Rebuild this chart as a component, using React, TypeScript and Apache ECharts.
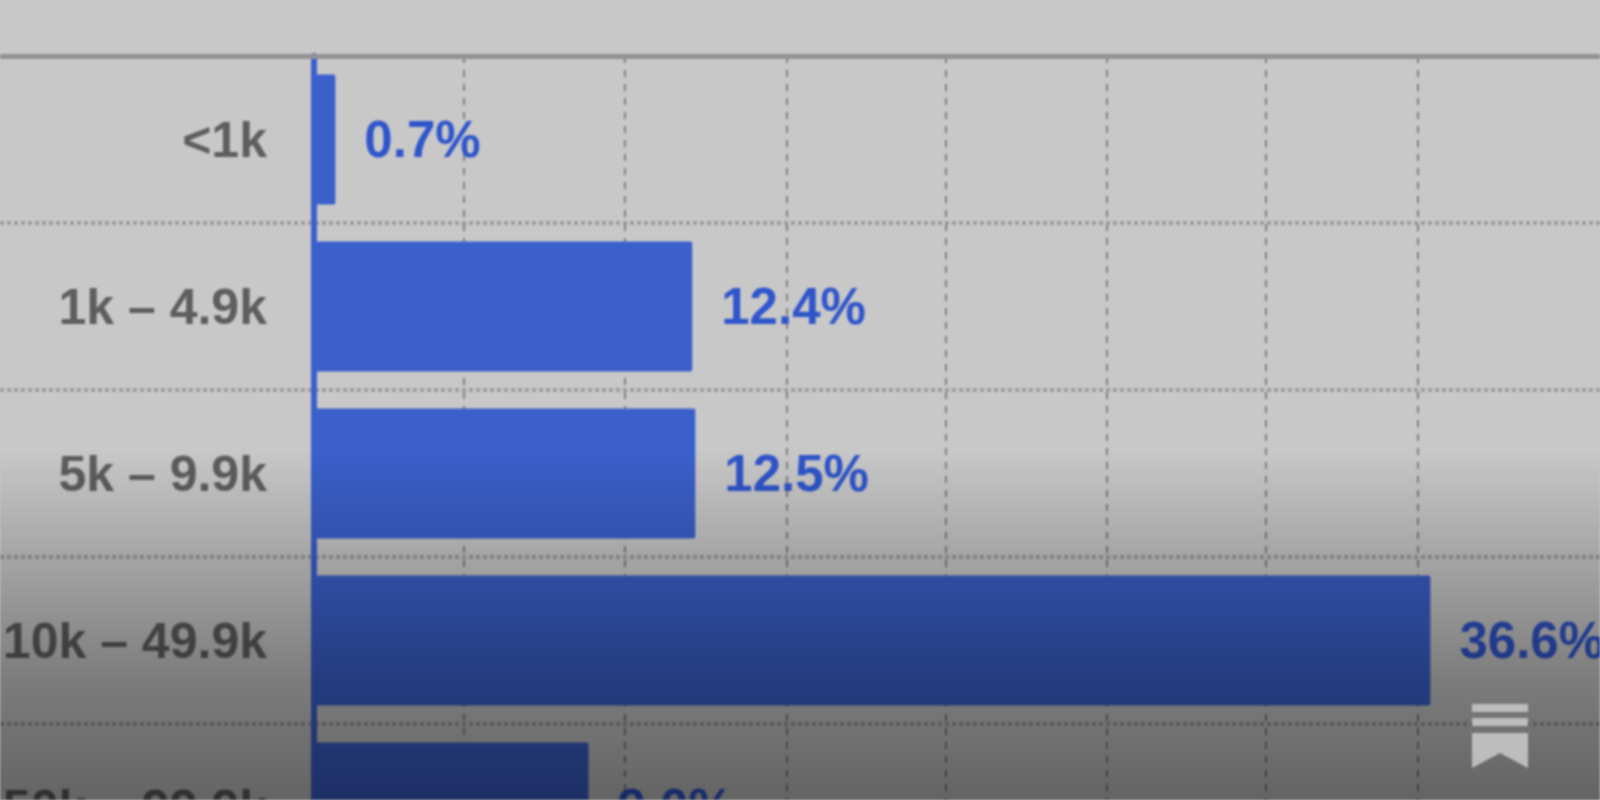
import React, { useEffect, useRef } from "react";
import * as echarts from "echarts";

const categories = ["<1k", "1k – 4.9k", "5k – 9.9k", "10k – 49.9k", "50k – 99.9k"];
const shares = [0.7, 12.4, 12.5, 36.6, 9.0];
const gridValues = [4.92, 10.2, 15.5, 20.7, 26.0, 31.2, 36.2];
const axisMin = -10.295;
const axisMax = 42.16;

const FONT = '"Liberation Sans", Arial, sans-serif';

export default function App() {
  const ref = useRef<HTMLDivElement>(null);
  useEffect(() => {
    document.body.style.margin = "0";
    document.body.style.overflow = "hidden";
    document.body.style.background = "#c8c8c8";
    const chart = echarts.init(ref.current!, undefined, { renderer: "svg" });
    chart.setOption({
      animation: false,
      backgroundColor: "#c8c8c8",
      grid: { left: 0, top: 56, width: 1600, height: 835, outerBoundsMode: "none", containLabel: false },
      xAxis: {
        type: "value",
        position: "top",
        min: axisMin,
        max: axisMax,
        axisLine: { show: true, onZero: false, lineStyle: { color: "#929292", width: 5 } },
        axisLabel: { show: false },
        axisTick: { show: false, customValues: gridValues },
        splitLine: { show: true, lineStyle: { color: "#808080", width: 2, type: [7, 7] } },
      },
      yAxis: {
        type: "category",
        inverse: true,
        data: categories,
        axisLine: { show: true, onZero: true, lineStyle: { color: "#3b60cc", width: 6 } },
        axisTick: { show: false },
        axisLabel: { margin: -267, align: "right", fontFamily: FONT, fontWeight: "bold", fontSize: 50, color: "#5e5e5e" },
        splitLine: { show: true, lineStyle: { color: "#9c9c9c", width: 4, type: [4, 3] } },
      },
      series: [
        {
          type: "bar",
          data: shares,
          barWidth: 130,
          z: 3,
          itemStyle: { color: "#3b60cc", borderRadius: 2 },
          label: {
            show: true,
            position: "right",
            distance: 29,
            fontFamily: FONT,
            fontWeight: "bold",
            fontSize: 51,
            color: "#2f55cc",
            formatter: (p: any) => `${Number(p.value).toFixed(1)}%`,
          },
        },
      ],
      graphic: [
        {
          type: "rect",
          z: 100,
          silent: true,
          shape: { x: 0, y: 0, width: 1600, height: 800 },
          style: {
            fill: new echarts.graphic.LinearGradient(0, 0, 0, 1, [
              { offset: 0, color: "rgba(0,0,0,0)" },
              { offset: 0.56, color: "rgba(0,0,0,0)" },
              { offset: 0.7, color: "rgba(0,0,0,0.18)" },
              { offset: 0.85, color: "rgba(0,0,0,0.38)" },
              { offset: 1, color: "rgba(0,0,0,0.5)" },
            ]),
          },
        },
        { type: "rect", z: 101, shape: { x: 1472, y: 704, width: 56, height: 8 }, style: { fill: "#bdbdbd" } },
        { type: "rect", z: 101, shape: { x: 1472, y: 718, width: 56, height: 8 }, style: { fill: "#bdbdbd" } },
        {
          type: "polygon",
          z: 101,
          shape: { points: [[1472, 733], [1528, 733], [1528, 768], [1500, 753], [1472, 768]] },
          style: { fill: "#bdbdbd" },
        },
      ],
    });
    return () => chart.dispose();
  }, []);
  return <div ref={ref} style={{ width: 1600, height: 800, filter: "blur(1.3px)" }} />;
}
